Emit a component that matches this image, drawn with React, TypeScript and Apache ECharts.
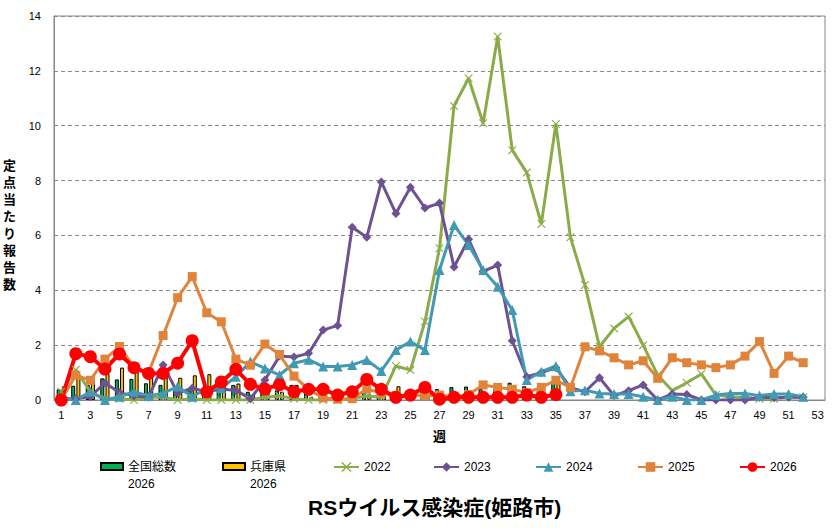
import * as echarts from "echarts";
import { useEffect, useRef } from "react";

const weeks = [
  "1", "2", "3", "4", "5", "6", "7", "8", "9", "10", "11", "12", "13", "14", "15", "16", "17", "18",
  "19", "20", "21", "22", "23", "24", "25", "26", "27", "28", "29", "30", "31", "32", "33", "34", "35",
  "36", "37", "38", "39", "40", "41", "42", "43", "44", "45", "46", "47", "48", "49", "50", "51", "52", "53"
];

const yTicks = [0, 2, 4, 6, 8, 10, 12, 14];

const national2026 = [
  0.39, 0.52, 0.55, 0.79, 0.75, 0.77, 0.61, 0.55, 0.49, 0.43, 0.38, 0.36, 0.55, 0.3, 0.3, 0.35, 0.55, 0.3,
  0.2, 0.2, 0.25, 0.35, 0.35, 0.3, 0.3, 0.3, 0.4, 0.47, 0.49, 0.4, 0.4, 0.63, 0.5, 0.45, 0.65
];
const hyogo2026 = [
  0.5, 0.85, 0.7, 0.95, 1.18, 1.05, 0.94, 0.94, 0.81, 0.9, 0.94, 0.6, 0.6, 0.2, 0.3, 0.3, 0.55, 0.1,
  0.1, 0.1, 0.15, 0.2, 0.45, 0.5, 0.2, 0.15, 0.3, 0.1, 0.1, 0.1, 0.1, 0.15, 0.2, 0.2, 0.65
];
const y2022 = [
  0.3, 1.1, 0.3, 0.05, 0.05, 0, 0.1, 0.1, 0, 0.05, 0, 0, 0, 0, 0.1, 0.15, 0.05, 0, 0, 0, 0.05, 0.15, 0.1,
  1.24, 1.09, 2.86, 5.53, 10.72, 11.73, 10.09, 13.25, 9.11, 8.29, 6.42, 10.06, 5.93, 4.19, 1.94, 2.61,
  3.04, 2.0, 0.91, 0.34, 0.63, 0.95, 0.18, 0.12, 0.1, 0.05, 0.05, 0.1, 0.1
];
const y2023 = [
  0.05, 0.05, 0.12, 0.62, 0.27, 0.15, 0.1, 1.28, 0.25, 0.43, 0.3, 0.4, 0.35, 0.05, 0.73, 1.6, 1.57, 1.7,
  2.55, 2.72, 6.3, 5.93, 7.95, 6.8, 7.76, 7.0, 7.18, 4.85, 5.86, 4.69, 4.92, 2.16, 0.85, 1.0, 1.18, 0.45,
  0.3, 0.81, 0.16, 0.34, 0.55, 0, 0.22, 0.2, 0, 0, 0, 0, 0.1, 0.08, 0.1, 0.1
];
const y2024 = [
  0.1, 0, 0.3, 0, 0.12, 0.3, 0.15, 0.25, 0.49, 0.12, 0.43, 0.43, 0.85, 1.4, 1.15, 0.91, 1.34, 1.47, 1.22,
  1.22, 1.28, 1.46, 1.06, 1.82, 2.13, 1.82, 4.74, 6.38, 5.65, 4.74, 4.13, 3.28, 0.73, 1.03, 1.24, 0.32,
  0.36, 0.24, 0.22, 0.22, 0.12, 0, 0.12, 0, 0, 0.18, 0.24, 0.24, 0.16, 0.22, 0.22, 0.12
];
const y2025 = [
  0, 0.9, 0.72, 1.49, 1.95, 1.2, 1.0, 2.35, 3.73, 4.5, 3.18, 2.85, 1.49, 1.27, 2.04, 1.66, 0.87, 0.38,
  0.08, 0.03, 0.05, 0.4, 0.25, 0.15, 0.2, 0.15, 0.18, 0.12, 0.2, 0.55, 0.46, 0.39, 0.27, 0.46, 0.72, 0.46,
  1.94, 1.79, 1.54, 1.28, 1.43, 0.79, 1.54, 1.36, 1.28, 1.18, 1.28, 1.6, 2.13, 0.97, 1.6, 1.36
];
const y2026 = [
  0, 1.69, 1.58, 1.13, 1.68, 1.18, 0.97, 0.97, 1.34, 2.16, 0.3, 0.66, 1.12, 0.57, 0.4, 0.56, 0.3, 0.39,
  0.39, 0.18, 0.3, 0.75, 0.39, 0.1, 0.18, 0.46, 0.03, 0.1, 0.1, 0.1, 0.1, 0.1, 0.18, 0.1, 0.2
];

const FONT = "'Liberation Sans', 'Noto Sans CJK JP', sans-serif";
const CROSS =
  "path://M0,0L1,0L5,4L9,0L10,0L10,1L6,5L10,9L10,10L9,10L5,6L1,10L0,10L0,9L4,5L0,1Z";

function lineSeries(name: string, data: number[], color: string, symbol: string, symbolSize: number, width: number) {
  return {
    name,
    type: "line",
    data,
    symbol,
    symbolSize,
    showAllSymbol: true,
    lineStyle: { width, color },
    itemStyle: { color },
    emphasis: { disabled: true }
  };
}

// two-line legend label: a blank first line keeps the first real line level with the icon
function barLegend(name: string, left: number) {
  return {
    data: [{ name, icon: "rect" }],
    left,
    top: 441,
    padding: 0,
    itemWidth: 22,
    itemHeight: 7,
    formatter: (n: string) => " \n" + n,
    textStyle: { fontFamily: FONT, fontSize: 12, color: "#000", lineHeight: 17 }
  };
}

function lineLegend(name: string, left: number) {
  return {
    data: [name],
    left,
    top: 461,
    padding: 0,
    itemWidth: 25,
    itemHeight: 12,
    textStyle: { fontFamily: FONT, fontSize: 12, color: "#000" }
  };
}

export default function App() {
  const ref = useRef<HTMLDivElement | null>(null);

  useEffect(() => {
    if (!ref.current) {
      return;
    }
    const chart = echarts.init(ref.current, null, { renderer: "svg" });
    chart.setOption({
      animation: false,
      backgroundColor: "#fff",
      textStyle: { fontFamily: FONT },
      title: {
        text: "RSウイルス感染症(姫路市)",
        left: 308,
        top: 497,
        padding: 0,
        textStyle: { fontFamily: FONT, fontSize: 21, fontWeight: "bold", color: "#000" }
      },
      legend: [
        barLegend("全国総数\n2026", 100),
        barLegend("兵庫県\n2026", 222),
        lineLegend("2022", 333),
        lineLegend("2023", 433),
        lineLegend("2024", 535),
        lineLegend("2025", 637),
        lineLegend("2026", 739)
      ],
      grid: {
        left: 54,
        right: 7,
        top: 16,
        bottom: 131,
        show: true,
        borderColor: "#868686",
        borderWidth: 1
      },
      graphic: [
        {
          type: "text",
          left: 3,
          top: 157,
          style: {
            text: "定\n点\n当\nた\nり\n報\n告\n数",
            font: `bold 13px ${FONT}`,
            lineHeight: 17,
            fill: "#000"
          }
        }
      ],
      xAxis: {
        type: "category",
        data: weeks,
        boundaryGap: true,
        name: "週",
        nameLocation: "middle",
        nameGap: 30,
        nameTextStyle: { fontFamily: FONT, fontSize: 13, fontWeight: "bold", color: "#000" },
        axisLine: { lineStyle: { color: "#868686" } },
        axisTick: { show: false },
        axisLabel: { interval: 1, fontSize: 11, color: "#000", margin: 9, fontFamily: FONT }
      },
      yAxis: {
        type: "value",
        min: yTicks[0],
        max: yTicks[yTicks.length - 1],
        interval: 2,
        axisLine: { show: true, lineStyle: { color: "#868686" } },
        axisTick: { show: false },
        axisLabel: { fontSize: 11, color: "#000", margin: 13, fontFamily: FONT },
        splitLine: { lineStyle: { color: "#8c8c8c", type: [4, 3] } }
      },
      series: [
        {
          name: "全国総数\n2026",
          type: "bar",
          data: national2026,
          barWidth: 4,
          barGap: "30%",
          itemStyle: { color: "#00b050", borderColor: "#000", borderWidth: 1 }
        },
        {
          name: "兵庫県\n2026",
          type: "bar",
          data: hyogo2026,
          barWidth: 4,
          barGap: "30%",
          itemStyle: { color: "#ffc000", borderColor: "#000", borderWidth: 1 }
        },
        lineSeries("2022", y2022, "#8aac48", CROSS, 8, 3),
        lineSeries("2023", y2023, "#6e5193", "diamond", 9, 3),
        lineSeries("2024", y2024, "#4199b3", "triangle", 10, 3),
        lineSeries("2025", y2025, "#e0843c", "rect", 9, 3),
        lineSeries("2026", y2026, "#ff0000", "circle", 13, 4)
      ]
    });
    return () => {
      chart.dispose();
    };
  }, []);

  return <div ref={ref} style={{ position: "absolute", left: 0, top: 0, width: 832, height: 531 }} />;
}
